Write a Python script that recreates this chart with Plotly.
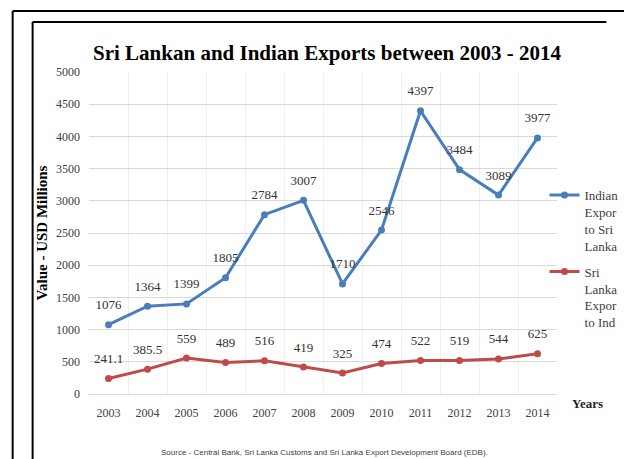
import plotly.graph_objects as go

years = ["2003", "2004", "2005", "2006", "2007", "2008", "2009", "2010", "2011", "2012", "2013", "2014"]
india_to_sl = [1076, 1364, 1399, 1805, 2784, 3007, 1710, 2546, 4397, 3484, 3089, 3977]
sl_to_india = [241.1, 385.5, 559, 489, 516, 419, 325, 474, 522, 519, 544, 625]
india_labels = [str(v) for v in india_to_sl]
sl_labels = ["241.1", "385.5", "559", "489", "516", "419", "325", "474", "522", "519", "544", "625"]

W, H = 624, 459
L, R, T, B = 88.5, 557.5, 72, 394

def px(x):
    return (x - L) / (R - L)

def py(y):
    return (B - y) / (B - T)

serif = "Liberation Serif, Times New Roman, serif"
blue = "#4A7EBB"
red = "#BE4B48"

fig = go.Figure()
fig.add_trace(go.Scatter(
    x=years, y=india_to_sl, mode="lines+markers",
    name="Indian<br>Expor<br>to Sri<br>Lanka", legendgroup="a",
    line=dict(color=blue, width=3),
    marker=dict(color=blue, size=7),
))
fig.add_trace(go.Scatter(
    x=years, y=sl_to_india, mode="lines+markers",
    name="Sri<br>Lanka<br>Expor<br>to Ind", legendgroup="b",
    line=dict(color=red, width=3),
    marker=dict(color=red, size=7),
))
# data labels (transparent larger markers push labels a bit higher)
for ys, labels in ((india_to_sl, india_labels), (sl_to_india, sl_labels)):
    fig.add_trace(go.Scatter(
        x=years, y=ys, mode="markers+text", text=labels, textposition="top center",
        marker=dict(size=18, color="rgba(0,0,0,0)"),
        textfont=dict(family=serif, size=13, color="#333333"),
        showlegend=False, hoverinfo="skip",
    ))

shapes = []
lw = 2
# outer border
shapes.append(dict(type="line", xref="paper", yref="paper", x0=px(12), x1=px(640), y0=py(11), y1=py(11), line=dict(color="black", width=lw)))
shapes.append(dict(type="line", xref="paper", yref="paper", x0=px(12), x1=px(12), y0=py(11), y1=py(480), line=dict(color="black", width=lw)))
# inner border
shapes.append(dict(type="line", xref="paper", yref="paper", x0=px(32), x1=px(607), y0=py(22), y1=py(22), line=dict(color="black", width=lw)))
shapes.append(dict(type="line", xref="paper", yref="paper", x0=px(32), x1=px(32), y0=py(22), y1=py(480), line=dict(color="black", width=lw)))

annotations = [
    dict(text="<b>Years</b>", xref="paper", yref="paper", x=px(588), y=py(403), showarrow=False,
         xanchor="center", yanchor="middle",
         font=dict(family=serif, size=13, color="#262626")),
    dict(text="Source - Central Bank, Sri Lanka Customs and Sri Lanka Export Development Board (EDB).",
         xref="paper", yref="paper", x=px(325), y=py(452), showarrow=False,
         xanchor="center", yanchor="middle",
         font=dict(family="Liberation Sans Narrow, Liberation Sans, Arial, sans-serif", size=8, color="#404040")),
]

fig.update_layout(
    width=W, height=H,
    margin=dict(l=L, r=W - R, t=T, b=H - B, pad=0, autoexpand=False),
    paper_bgcolor="white", plot_bgcolor="white",
    title=dict(text="<b>Sri Lankan and Indian Exports between 2003 - 2014</b>",
               x=px(327), xanchor="center", xref="paper", y=1 - 53 / H, yanchor="middle",
               font=dict(family=serif, size=21, color="#000000")),
    xaxis=dict(type="category", range=[-0.5, 11.5], showgrid=True, gridcolor="#f0f0f0", gridwidth=1,
               tickson="boundaries", ticks="", showline=True, linecolor="#d9d9d9", ticklabelstandoff=8,
               tickfont=dict(family=serif, size=12, color="#404040"), fixedrange=True),
    yaxis=dict(range=[0, 5000], dtick=500, showgrid=True, gridcolor="#d9d9d9", zeroline=False,
               ticks="", ticklabelstandoff=8, tickfont=dict(family=serif, size=12, color="#404040"),
               title=dict(text="<b>Value - USD Millions</b>", font=dict(family=serif, size=15, color="#000000"), standoff=4)),
    legend=dict(x=px(545), y=py(180), xanchor="left", yanchor="top", valign="top",
                font=dict(family=serif, size=13, color="#404040"), bgcolor="rgba(0,0,0,0)",
                itemwidth=30, traceorder="grouped", tracegroupgap=6),
    showlegend=True,
    shapes=shapes,
    annotations=annotations,
)

fig.write_html("out.html", config={"displayModeBar": False},
               post_script="document.body.style.margin='0px';document.body.style.overflow='hidden';")
